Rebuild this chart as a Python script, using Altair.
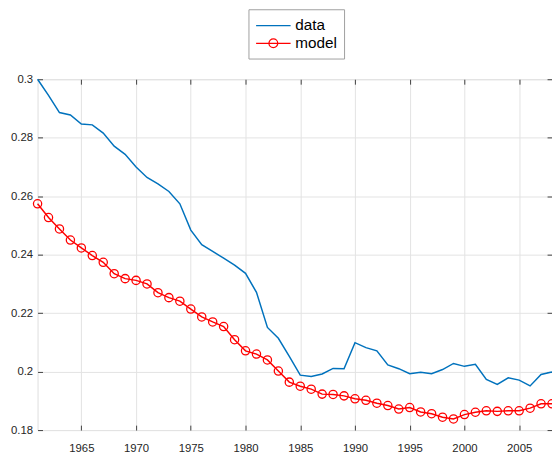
import altair as alt
import pandas as pd

years = list(range(1961, 2009))
data_vals = [0.3000, 0.2945, 0.2886, 0.2878, 0.2847, 0.2844, 0.2816, 0.2771, 0.2743, 0.2700,
             0.2664, 0.2642, 0.2616, 0.2574, 0.2484, 0.2434, 0.2411, 0.2388, 0.2364, 0.2336,
             0.2271, 0.2151, 0.2114, 0.2052, 0.1988, 0.1983, 0.1992, 0.2011, 0.2010, 0.2099,
             0.2082, 0.2071, 0.2023, 0.2010, 0.1993, 0.1998, 0.1993, 0.2007, 0.2028, 0.2018,
             0.2025, 0.1973, 0.1956, 0.1979, 0.1971, 0.1951, 0.1990, 0.1999]
model_vals = [0.2574, 0.2527, 0.2488, 0.2450, 0.2423, 0.2397, 0.2374, 0.2335, 0.2318, 0.2312,
              0.2300, 0.2270, 0.2253, 0.2241, 0.2214, 0.2187, 0.2170, 0.2154, 0.2109, 0.2071,
              0.2060, 0.2040, 0.2002, 0.1964, 0.1950, 0.1940, 0.1923, 0.1922, 0.1917, 0.1907,
              0.1902, 0.1892, 0.1884, 0.1872, 0.1877, 0.1862, 0.1856, 0.1844, 0.1838, 0.1853,
              0.1861, 0.1866, 0.1864, 0.1866, 0.1866, 0.1875, 0.1890, 0.1890]
series_names = ["data", "model"]
series_colors = ["#0072BD", "#FF0000"]
x_ticks = [1965, 1970, 1975, 1980, 1985, 1990, 1995, 2000, 2005]
y_ticks = [0.18, 0.2, 0.22, 0.24, 0.26, 0.28, 0.3]

df = pd.DataFrame({
    "year": years * 2,
    "value": data_vals + model_vals,
    "series": ["data"] * len(years) + ["model"] * len(years),
})

FONT = "Liberation Sans"
AX = "#404040"
GRID = "#E3E3E3"

xs = alt.Scale(domain=[1961, 2008], nice=False, zero=False)
ys = alt.Scale(domain=[0.18, 0.3], nice=False, zero=False)

common_axis = dict(domain=False, tickColor=AX, tickSize=5, offset=-5, tickWidth=1)

x_bottom = alt.Axis(orient="bottom", values=x_ticks, format="d", title=None, grid=True,
                    gridColor=GRID, labelPadding=13, labelFontSize=11.5, labelFont=FONT,
                    labelColor="#262626", **common_axis)
y_left = alt.Axis(orient="left", values=y_ticks, format="~g", title=None, grid=True,
                  gridColor=GRID, labelPadding=5, labelFontSize=11.5, labelFont=FONT,
                  labelColor="#262626", **common_axis)
x_top = alt.Axis(orient="top", values=x_ticks, labels=False, title=None, grid=False, **common_axis)
y_right = alt.Axis(orient="right", values=y_ticks, labels=False, title=None, grid=False, **common_axis)

data_path = "M-1,0H3"
model_path = "M-1,0H3M1.51,0A0.51,0.51,0,1,1,0.49,0A0.51,0.51,0,1,1,1.51,0"

legend = alt.Legend(
    orient="none", legendX=214, legendY=-71, title=None,
    strokeColor="#A0A0A0", fillColor="white", padding=7,
    labelFontSize=15.5, labelFont=FONT, labelColor="#000000", labelOffset=21.5,
    symbolSize=306, symbolStrokeWidth=1.3, symbolFillColor="transparent",
    symbolOpacity=1, rowPadding=0,
)

base = alt.Chart(df)

data_line = base.transform_filter(alt.datum.series == "data").mark_line(
    strokeWidth=1.5, color=series_colors[0]
).encode(
    x=alt.X("year:Q", scale=xs, axis=x_bottom),
    y=alt.Y("value:Q", scale=ys, axis=y_left),
)
model_line = base.transform_filter(alt.datum.series == "model").mark_line(
    strokeWidth=1.5, color=series_colors[1]
).encode(
    x=alt.X("year:Q", scale=xs, axis=x_top),
    y=alt.Y("value:Q", scale=ys, axis=y_right),
)
model_pts = base.transform_filter(alt.datum.series == "model").mark_point(
    shape="circle", filled=False, size=70, strokeWidth=1.3, color=series_colors[1], opacity=1
).encode(
    x=alt.X("year:Q", scale=xs, axis=None),
    y=alt.Y("value:Q", scale=ys, axis=None),
)
legend_layer = base.transform_filter(alt.datum.year < 0).mark_point(filled=False, opacity=1).encode(
    x=alt.X("year:Q", scale=xs, axis=None),
    y=alt.Y("value:Q", scale=ys, axis=None),
    color=alt.Color("series:N", scale=alt.Scale(domain=series_names, range=series_colors), legend=legend),
    shape=alt.Shape("series:N", scale=alt.Scale(domain=series_names, range=[data_path, model_path]), legend=legend),
)

chart = alt.layer(data_line, model_line, model_pts, legend_layer).resolve_axis(
    x="independent", y="independent"
).properties(
    width=522, height=356,
    autosize=alt.AutoSizeParams(type="none"),
    padding={"left": 30, "top": 69, "right": 0, "bottom": 22},
).configure_view(stroke=AX, strokeWidth=1).configure(background="white")

chart.save("out.html", embed_options={"renderer": "svg", "actions": False})
